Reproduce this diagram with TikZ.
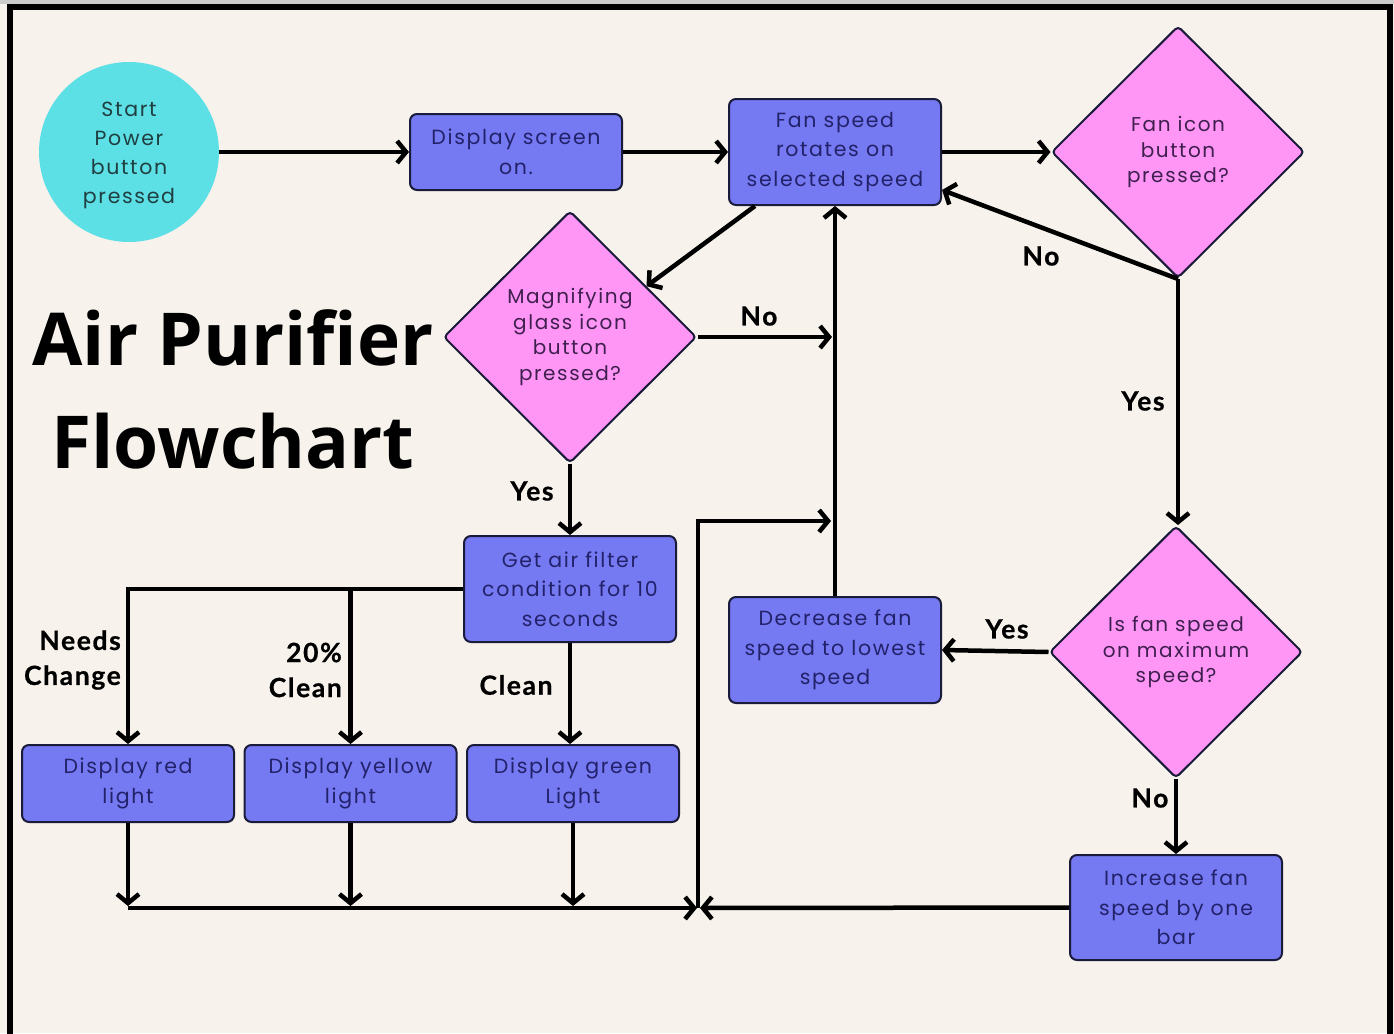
\documentclass[tikz,border=0pt]{standalone}
\usepackage{fontspec}
\setmainfont{Poppins}[LetterSpace=8]
\newfontfamily\labfont{Lato}[LetterSpace=6,BoldFeatures={FakeBold=0.6}]
\newfontfamily\titlefont{Open Sans}
\usetikzlibrary{shapes.geometric,arrows.meta,calc}
\definecolor{bgc}{HTML}{F7F3EC}
\definecolor{boxblue}{HTML}{7579F2}
\definecolor{pinkd}{HTML}{FF96F5}
\definecolor{cyanc}{HTML}{5DDFE6}
\definecolor{edgec}{HTML}{1A1A3A}
\definecolor{navyt}{HTML}{22226A}
\definecolor{purplet}{HTML}{3F1F4F}
\definecolor{tealt}{HTML}{1F3F40}
\begin{document}
\begin{tikzpicture}[x=1pt,y=-1pt,
  proc/.style={draw=edgec, line width=2, fill=boxblue, rounded corners=7,
    minimum width=212, align=center, text=navyt, inner sep=0,
    font=\fontsize{20.5}{29.5}\selectfont},
  dec/.style={draw=edgec, line width=2, fill=pinkd, diamond, aspect=1,
    minimum width=253, minimum height=252, inner sep=0, align=center,
    text=purplet, rounded corners=4, font=\fontsize{20}{25.5}\selectfont},
  lab/.style={font=\labfont\bfseries\fontsize{26.5}{35}\selectfont, text=black, inner sep=0},
  arr/.style={line width=4.5, black, -{Straight Barb[length=9,width=22,line width=4.5]}},
  ln/.style={line width=4.5, black}]
\useasboundingbox (0,0) rectangle (1394,1033);
\fill[bgc] (0,0) rectangle (1394,1033);
\fill[black!20] (0,0) rectangle (1394,4);
\draw[line width=6, black] (10,1040) -- (10,7) -- (1390,7) -- (1390,1040);

% nodes
\node[circle, fill=cyanc, minimum size=180, inner sep=0] (start) at (129,152) {};
\node[align=center, text=tealt, inner sep=0, font=\fontsize{20.5}{29}\selectfont]
  (starttext) at (129,155) {Start\\Power\\button\\pressed};
\node[proc, minimum height=76] (disp) at (516,152) {Display screen\\on.};
\node[proc, minimum height=106] (fan) at (835,152) {Fan speed\\rotates on\\selected speed};
\node[dec] (fanicon) at (1178,152) {Fan icon\\button\\pressed?};
\node[dec] (magn) at (570,337) {Magnifying\\glass icon\\button\\pressed?};
\node[proc, minimum height=106] (getair) at (570,589) {Get air filter\\condition for 10\\seconds};
\node[proc, minimum height=77] (red) at (128,783.5) {Display red\\light};
\node[proc, minimum height=77] (yellow) at (350.5,783.5) {Display yellow\\light};
\node[proc, minimum height=77] (green) at (573,783.5) {Display green\\Light};
\node[proc, minimum height=106] (decr) at (835,650) {Decrease fan\\speed to lowest\\speed};
\node[dec] (isfan) at (1176,652) {Is fan speed\\on maximum\\speed?};
\node[proc, minimum height=105] (incr) at (1176,907.5) {Increase fan\\speed by one\\bar};

% title
\node[font=\titlefont\bfseries\fontsize{73}{103}\selectfont, align=center, inner sep=0]
  (title) at (233,389) {Air Purifier\\Flowchart};

% coordinates
\coordinate (bus) at (698,908);
\coordinate (joinA) at (831,521);

% connectors
\draw[arr] (start) -- (disp);
\draw[arr] (disp) -- (fan);
\draw[arr] (fan.east) -- (fanicon.west);
\draw[arr] (fanicon.south) -- ([yshift=-38]fan.east);
\draw[arr] ([xshift=27]fan.south west) -- ($(magn.north)!0.6!(magn.east)$);
\draw[arr] (magn.east) -- ([xshift=-3]decr.north |- magn.east);
\draw[arr] (fanicon.south) -- (fanicon.south |- isfan.north);
\draw[arr] (magn.south) -- (magn.south |- getair.north);
\draw[arr] (getair.west) -| (red.north);
\draw[arr] (yellow.north |- getair.west) -- (yellow.north);
\draw[arr] (getair.south) -- (getair.south |- green.north);
\draw[arr] (red.south) -- ([yshift=2]red.south |- bus);
\draw[arr] (yellow.south) -- ([yshift=2]yellow.south |- bus);
\draw[arr] (green.south) -- ([yshift=2]green.south |- bus);
\draw[arr] (red.south |- bus) -- ([xshift=-1]bus);
\draw[arr] (incr.west) -- ([xshift=2]bus);
\draw[arr] (bus) |- (joinA);
\draw[arr] (decr.north) -- (fan.south);
\draw[arr] (isfan.west) -- (decr.east);
\draw[arr] (isfan.south) -- (incr.north);

% labels
\node[lab] (l1) at (1041,256) {No};
\node[lab] (l2) at (1143,401) {Yes};
\node[lab] (l3) at (759,316) {No};
\node[lab] (l4) at (532,491) {Yes};
\node[lab, align=right, anchor=east] (l5) at (121,660) {Needs\\Change};
\node[lab, align=right, anchor=east] (l6) at (342,670) {20\%\\Clean};
\node[lab] (l7) at (516,685) {Clean};
\node[lab] (l8) at (1007,629) {Yes};
\node[lab] (l9) at (1150,798) {No};
\end{tikzpicture}
\end{document}
